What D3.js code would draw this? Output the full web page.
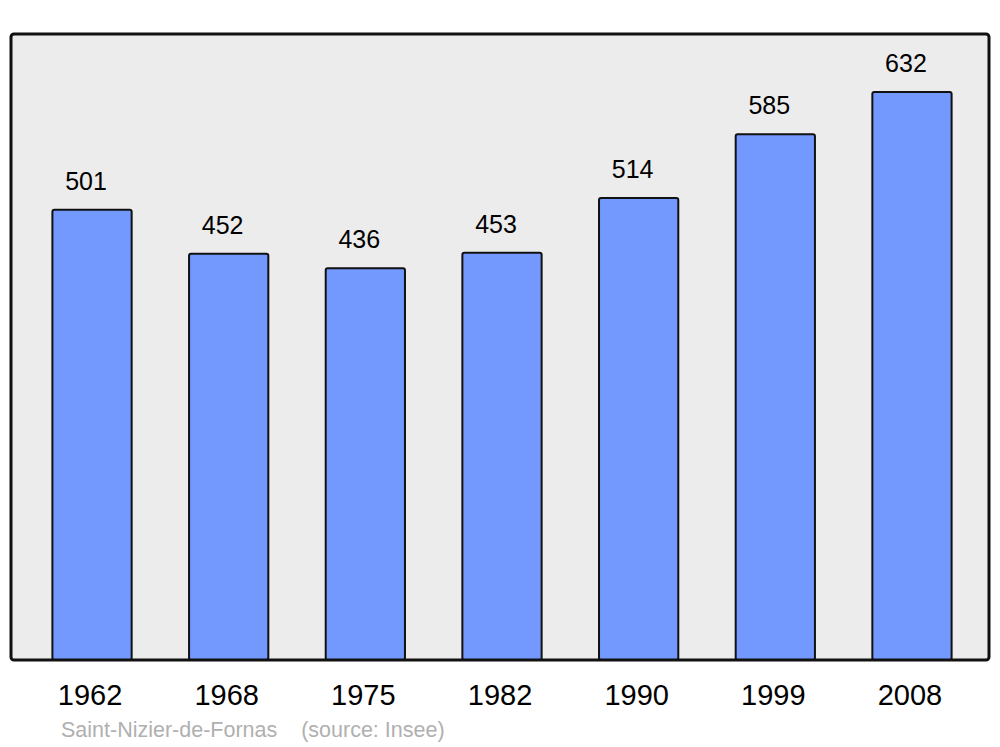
<!DOCTYPE html>
<html>
<head>
<meta charset="utf-8">
<script src="https://cdn.jsdelivr.net/npm/d3@7"></script>
<style>
html,body{margin:0;padding:0;background:#fff;}
svg{display:block;font-family:"Liberation Sans",Arial,sans-serif;}
</style>
</head>
<body>
<script>
const years = ["1962","1968","1975","1982","1990","1999","2008"];
const population = [501,452,436,453,514,585,632];
const footerTitle = "Saint-Nizier-de-Fornas";
const footerSource = "(source: Insee)";

const W = 1000, H = 747;
const svg = d3.select("body").append("svg").attr("width", W).attr("height", H);

const frame = {x0: 11, y0: 34, x1: 989, y1: 660};

svg.append("rect")
  .attr("x", frame.x0).attr("y", frame.y0)
  .attr("width", frame.x1 - frame.x0).attr("height", frame.y1 - frame.y0)
  .attr("rx", 3).attr("ry", 3)
  .attr("fill", "#ececec");

const x = d3.scaleBand().domain(years).range([23.7, 980.3]).paddingInner(0.42).paddingOuter(0.21);
const y = d3.scaleLinear().domain([0, 632]).range([frame.y1, 92]);

const data = years.map((yr, i) => ({year: yr, value: population[i]}));

svg.append("g").selectAll("rect").data(data).join("rect")
  .attr("x", d => x(d.year))
  .attr("y", d => y(d.value))
  .attr("width", x.bandwidth())
  .attr("height", d => y(0) - y(d.value))
  .attr("rx", 2).attr("ry", 2)
  .attr("fill", "#7399ff").attr("stroke", "#111").attr("stroke-width", 2);

svg.append("rect")
  .attr("x", frame.x0).attr("y", frame.y0)
  .attr("width", frame.x1 - frame.x0).attr("height", frame.y1 - frame.y0)
  .attr("rx", 3).attr("ry", 3)
  .attr("fill", "none").attr("stroke", "#111").attr("stroke-width", 3);

svg.append("g").selectAll("text").data(data).join("text")
  .attr("x", d => x(d.year) + x.bandwidth() / 2 - 6)
  .attr("y", d => y(d.value) - 20)
  .attr("text-anchor", "middle")
  .attr("font-size", 25)
  .attr("fill", "#000")
  .text(d => d.value);

const xAxis = d3.axisBottom(x).tickSize(0).tickPadding(0);
const ax = svg.append("g").attr("transform", `translate(0,${frame.y1})`).call(xAxis);
ax.select(".domain").remove();
ax.selectAll("text")
  .attr("font-size", 29)
  .attr("font-family", "'Liberation Sans',Arial,sans-serif")
  .attr("fill", "#000")
  .attr("dy", null)
  .attr("y", 45)
  .attr("x", -2);

svg.append("text")
  .attr("x", 61).attr("y", 737)
  .attr("font-size", 21.5)
  .attr("fill", "#b0b0b0")
  .attr("xml:space", "preserve")
  .style("white-space", "pre")
  .text(footerTitle + "    " + footerSource);
</script>
</body>
</html>
